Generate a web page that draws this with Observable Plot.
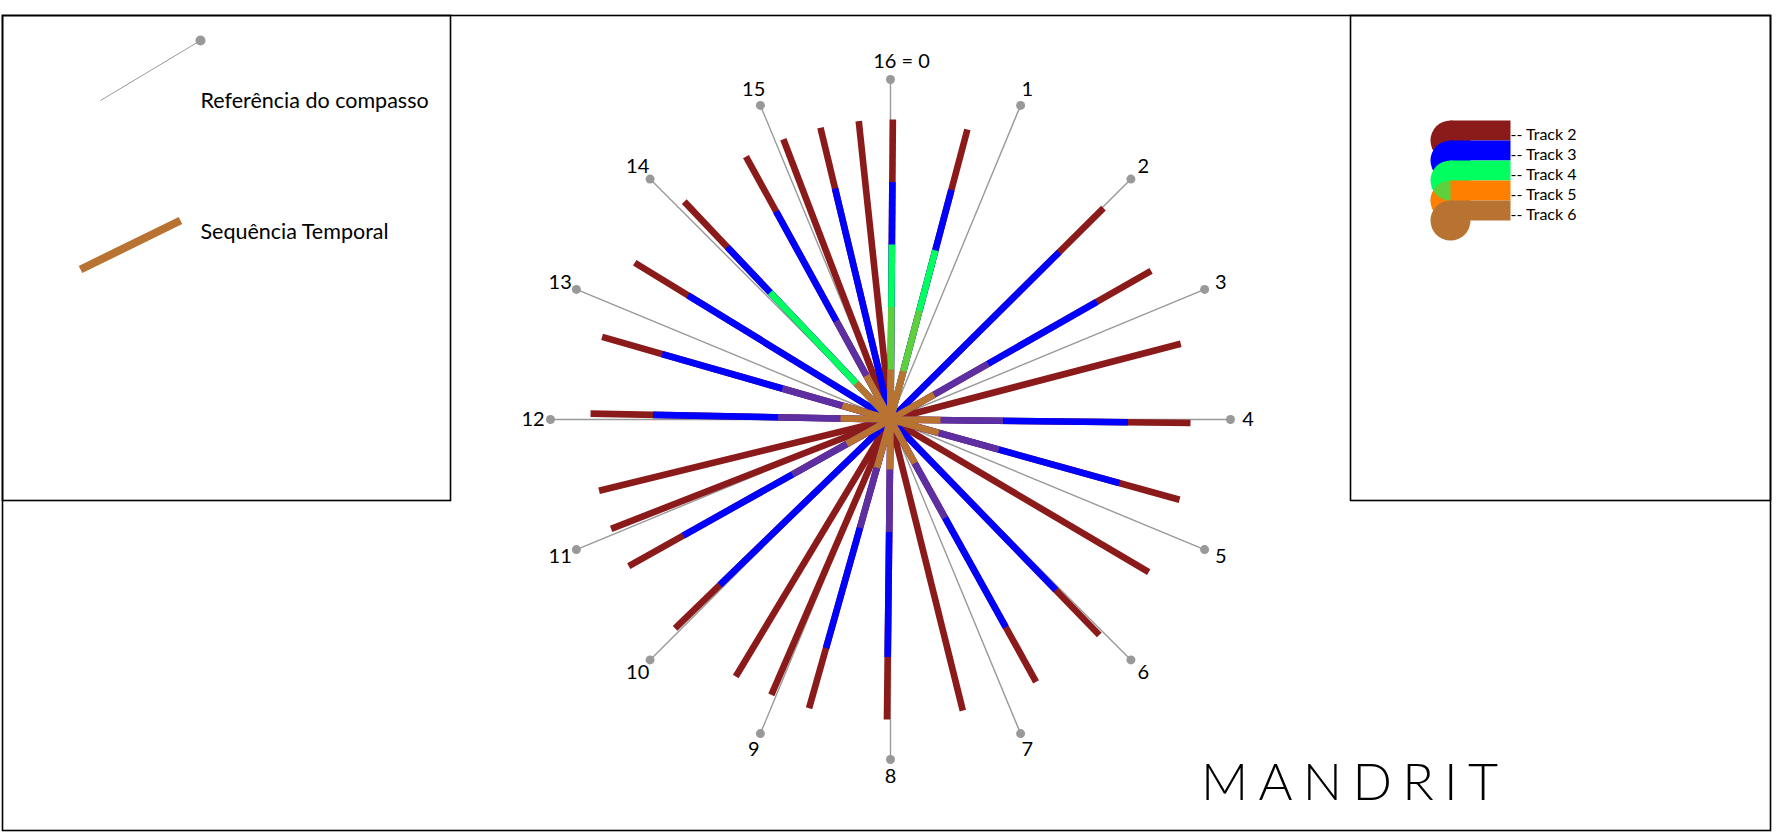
<!DOCTYPE html>
<html>
<head>
<meta charset="utf-8">
<script src="https://cdn.jsdelivr.net/npm/d3@7"></script>
<script src="https://cdn.jsdelivr.net/npm/@observablehq/plot@0.6"></script>
<style>
  html, body { margin: 0; padding: 0; background: #fff; }
  #wrap { position: relative; width: 1780px; height: 840px; overflow: hidden; background: #fff; }
  #wrap svg { position: absolute; top: 0; }
</style>
</head>
<body>
<div id="wrap"></div>
<script>
// ================= DATA =================
const tracks = ["Track 2", "Track 3", "Track 4", "Track 5", "Track 6"];
const trackColors = ["#8b1a1a", "#0000ff", "#00ff5f", "#ff8000", "#b87333"];
const trackLengths = [4.8, 3.8, 2.8, 1.8, 0.8];   // radial length of each track's strokes
const trackOpacity = [1, 1, 1, 0.37, 1];
// onset positions inside the measure, in sixteenths (0..16)
const track2Pos = [0.02, 0.66, 2.01, 2.68, 3.35, 4.03, 4.69, 5.36, 6.04, 6.71, 7.38, 8.03, 8.70, 9.04, 9.38,
                   10.04, 10.70, 11.05, 11.39, 12.05, 12.71, 13.40, 14.07, 14.72, 15.07, 15.40, 15.73];
const track3Pos = [0.02, 0.66, 2.01, 2.68, 4.03, 4.69, 6.04, 6.71, 8.03, 8.70, 10.04, 10.70, 12.05, 12.71,
                   13.40, 14.07, 14.72, 15.40];
const track4Pos = [0.02, 0.66, 14.07];
const track5Pos = [0.02, 0.66, 2.68, 4.03, 4.69, 6.71, 8.03, 8.70, 10.70, 12.05, 12.71, 14.72];
const track6Pos = [0.02, 0.66, 2.68, 4.03, 4.69, 6.71, 8.03, 8.70, 10.70, 12.05, 12.71, 14.07, 14.72];
const trackPositions = [track2Pos, track3Pos, track4Pos, track5Pos, track6Pos];

const compassSteps = d3.range(16);
const compassLabels = ["16 = 0", "1", "2", "3", "4", "5", "6", "7", "8", "9", "10", "11", "12", "13", "14", "15"];
const compassRadius = 5.44;
const legendItems = ["Referência do compasso", "Sequência Temporal"];
const titleText = "MANDRIT";

// ================= LAYOUT =================
const W = 1780, H = 840, CX = 890, CY = 419, PX = 62.5;
const mL = 2, mT = 15, mR = 10, mB = 10;
const FONT = "Lato, 'Noto Sans', sans-serif";
const ang = p => p / 16 * 2 * Math.PI;
const px = (r, p) => r * Math.sin(ang(p));
const py = (r, p) => r * Math.cos(ang(p));
const labelRadius = compassRadius + 0.28;

const rows = tracks.map((t, i) => trackPositions[i].map(p => ({track: t, pos: p, r: trackLengths[i]})));

const wrap = document.getElementById("wrap");

// ---------- main compass chart ----------
const mainMarks = [
  Plot.frame({stroke: "#000", strokeWidth: 1.6}),
  Plot.link(compassSteps, {
    x1: () => 0, y1: () => 0,
    x2: s => px(compassRadius, s), y2: s => py(compassRadius, s),
    stroke: "#999999", strokeWidth: 1.4
  }),
  Plot.dot(compassSteps, {
    x: s => px(compassRadius, s), y: s => py(compassRadius, s),
    r: 4.5, fill: "#999999", stroke: "none"
  })
];
tracks.forEach((t, i) => {
  mainMarks.push(Plot.link(rows[i], {
    x1: () => 0, y1: () => 0,
    x2: d => px(d.r, d.pos), y2: d => py(d.r, d.pos),
    stroke: trackColors[i], strokeOpacity: trackOpacity[i],
    strokeWidth: 6.6, strokeLinecap: "butt"
  }));
});
mainMarks.push(Plot.text(compassSteps.filter(s => s > 0), {
  x: s => px(labelRadius, s), y: s => py(labelRadius, s),
  text: s => compassLabels[s], fontSize: 20, fill: "#000"
}));
mainMarks.push(Plot.text(compassSteps.filter(s => s === 0), {
  x: s => px(labelRadius, s), y: s => py(labelRadius, s),
  text: s => compassLabels[s], fontSize: 20, fill: "#000", dx: 11
}));

const main = Plot.plot({
  width: W, height: H,
  marginLeft: mL, marginTop: mT, marginRight: mR, marginBottom: mB,
  x: {domain: [(mL - CX) / PX, (W - mR - CX) / PX], axis: null},
  y: {domain: [-(H - mB - CY) / PX, (CY - mT) / PX], axis: null},
  style: {background: "transparent", fontFamily: FONT},
  marks: mainMarks
});
main.style.left = "0px";
wrap.appendChild(main);

// title
d3.select(main).append("text")
  .attr("x", 1201).attr("y", 800)
  .attr("text-anchor", "start")
  .attr("font-family", FONT).attr("font-size", 52).attr("font-weight", 300)
  .attr("textLength", 297).attr("lengthAdjust", "spacing")
  .attr("fill", "#000")
  .text(titleText);

// ---------- left legend panel ----------
const swatchRef = {x1: 100, y1: 100, x2: 200, y2: 40};
const swatchSeq = {x1: 80, y1: 269, x2: 180, y2: 220};
const legendTextY = [101, 232];
const left = Plot.plot({
  width: 452, height: 502,
  marginLeft: 2, marginTop: 15, marginRight: 2, marginBottom: 2,
  x: {domain: [2, 450], axis: null},
  y: {domain: [500, 15], axis: null},
  style: {background: "transparent", fontFamily: FONT},
  marks: [
    Plot.frame({stroke: "#000", strokeWidth: 1.6}),
    Plot.link([swatchRef], {x1: "x1", y1: "y1", x2: "x2", y2: "y2", stroke: "#999999", strokeWidth: 1}),
    Plot.dot([swatchRef], {x: "x2", y: "y2", r: 5, fill: "#999999", stroke: "none"}),
    Plot.link([swatchSeq], {x1: "x1", y1: "y1", x2: "x2", y2: "y2", stroke: trackColors[4], strokeWidth: 8, strokeLinecap: "butt"}),
    Plot.text(legendItems, {
      x: () => 200, y: (d, i) => legendTextY[i], text: d => d,
      textAnchor: "start", fontSize: 21.5, fill: "#000"
    })
  ]
});
left.style.left = "0px";
wrap.appendChild(left);

// ---------- right legend panel (tracks) ----------
const trackRows = tracks.map((t, i) => ({track: t, color: trackColors[i], i}));
const swatchCap = d => Plot.dot([d], {x: () => 110, y: "track", r: 20, fill: d.color, fillOpacity: trackOpacity[d.i], stroke: "none"});
const swatchBar = d => Plot.link([d], {
  x1: () => 110, x2: () => 170, y1: "track", y2: "track", dy: -10,
  stroke: d.color, strokeWidth: 20, strokeLinecap: "butt"
});
const rightMarks = [Plot.frame({stroke: "#000", strokeWidth: 1.6})];
trackRows.forEach(d => {
  if (d.i === 2) {
    // opaque base of the translucent Track 5 cap, laid under Track 4
    const t5 = trackRows[3];
    rightMarks.push(Plot.dot([t5], {x: () => 110, y: "track", r: 20, fill: t5.color, stroke: "none"}));
  }
  rightMarks.push(swatchCap(d));
  rightMarks.push(swatchBar(d));
});
rightMarks.push(Plot.text(trackRows, {
  x: () => 170, y: "track", text: d => "-- " + d.track, dy: -6,
  textAnchor: "start", fontSize: 16, fill: "#000"
}));
const right = Plot.plot({
  width: 440, height: 502,
  marginLeft: 10, marginTop: 15, marginRight: 10, marginBottom: 2,
  x: {domain: [10, 430], axis: null},
  y: {type: "point", domain: tracks, range: [140, 220], padding: 0, axis: null},
  style: {background: "transparent", fontFamily: FONT},
  marks: rightMarks
});
right.style.left = "1340px";
wrap.appendChild(right);
</script>
</body>
</html>
